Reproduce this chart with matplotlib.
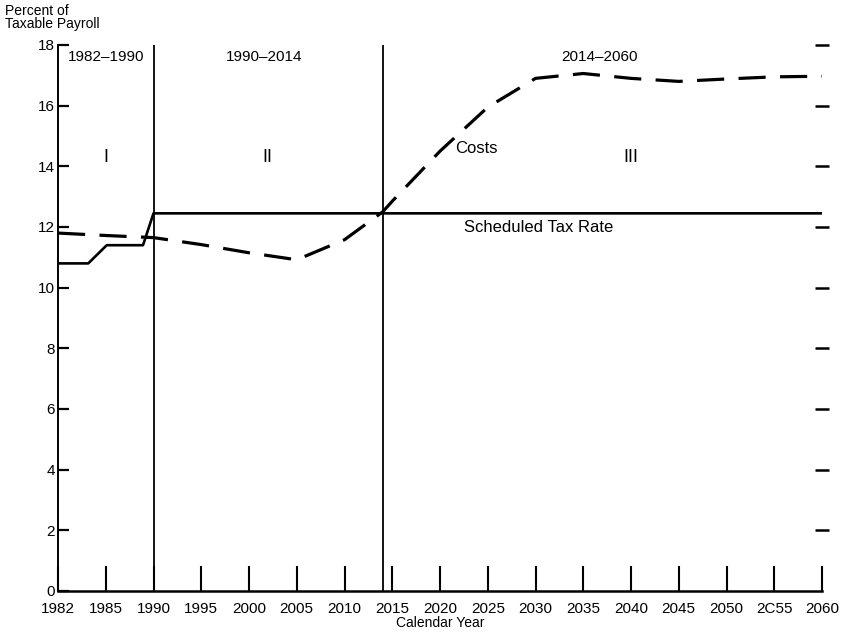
import numpy as np
import matplotlib
matplotlib.use("Agg")
import matplotlib.pyplot as plt

plt.rcParams['font.family'] = ['Liberation Sans', 'DejaVu Sans']

# Data
tax_years = [1982, 1983.9, 1985.1, 1988.9, 1990, 2060]
tax_rate = [10.8, 10.8, 11.4, 11.4, 12.45, 12.45]

cost_years = [1982, 1985, 1990, 1995, 2000, 2005, 2010, 2014, 2015, 2020, 2025,
              2030, 2035, 2040, 2045, 2050, 2055, 2060]
costs = [11.8, 11.72, 11.65, 11.42, 11.15, 10.92, 11.58, 12.5, 12.85, 14.5, 15.95,
         16.9, 17.06, 16.9, 16.8, 16.88, 16.95, 16.97]

tick_years = [1982, 1985, 1990, 1995, 2000, 2005, 2010, 2015, 2020, 2025, 2030,
              2035, 2040, 2045, 2050, 2055, 2060]
tick_labels = ['1982', '1985', '1990', '1995', '2000', '2005', '2010', '2015', '2020',
               '2025', '2030', '2035', '2040', '2045', '2050', '2C55', '2060']
y_ticks = [0, 2, 4, 6, 8, 10, 12, 14, 16, 18]
boundaries = [1990, 2014]
period_labels = ['1982\u20131990', '1990\u20132014', '2014\u20132060']
period_label_x = [1985, 2001.6, 2036.7]
roman = ['I', 'II', 'III']
roman_x = [1985, 2001.9, 2040]


def fwd(x):
    x = np.asarray(x, dtype=float)
    return np.where(x < 1985, 1985 - (1985 - x) * 5.0 / 3.0, x)


def inv(x):
    x = np.asarray(x, dtype=float)
    return np.where(x < 1985, 1985 - (1985 - x) * 3.0 / 5.0, x)


fig = plt.figure(figsize=(8.44, 6.32), dpi=100)
ax = fig.add_axes([58 / 844, 1 - 591 / 632, (822 - 58) / 844, (591 - 45) / 632])
ax.set_xscale('function', functions=(fwd, inv))
ax.set_xlim(1982, 2060)
ax.set_ylim(0, 18)

ax.plot(tax_years, tax_rate, color='black', lw=1.9, solid_joinstyle='round')
ax.plot(cost_years, costs, color='black', lw=2.3, dashes=(8.5, 4.5))

for b in boundaries:
    ax.axvline(b, ymin=0, ymax=1.0, color='black', lw=1.3)

ax.spines['top'].set_visible(False)
ax.spines['right'].set_visible(False)
ax.spines['left'].set_linewidth(1.4)
ax.spines['bottom'].set_linewidth(1.8)

ax.set_xticks(tick_years)
ax.set_xticklabels(tick_labels)
ax.set_yticks(y_ticks)
ax.set_yticklabels([str(v) for v in y_ticks])
ax.tick_params(axis='x', direction='in', length=18, width=1.5, labelsize=11, pad=8)
ax.tick_params(axis='y', direction='in', length=8, width=1.6, labelsize=11, pad=2,
               right=False)
sec = ax.secondary_yaxis('right')
sec.set_yticks(y_ticks[1:])
sec.set_yticklabels([])
sec.spines['right'].set_visible(False)
sec.tick_params(direction='inout', length=10, width=1.8)

for txt, xp in zip(period_labels, period_label_x):
    ax.text(xp, 17.6, txt, ha='center', va='center', fontsize=11)
for txt, xp in zip(roman, roman_x):
    ax.text(xp, 14.3, txt, ha='center', va='center', fontsize=13)

ax.text(2021.6, 14.6, 'Costs', ha='left', va='center', fontsize=12)
ax.text(2022.5, 12.0, 'Scheduled Tax Rate', ha='left', va='center', fontsize=12)

fig.text(5 / 844, 1 - 4 / 632, 'Percent of\nTaxable Payroll', ha='left', va='top',
         fontsize=10, linespacing=0.95)
fig.text(440 / 844, 1 - 623 / 632, 'Calendar Year', ha='center', va='center', fontsize=10)

fig.savefig('out.png', dpi=100)
